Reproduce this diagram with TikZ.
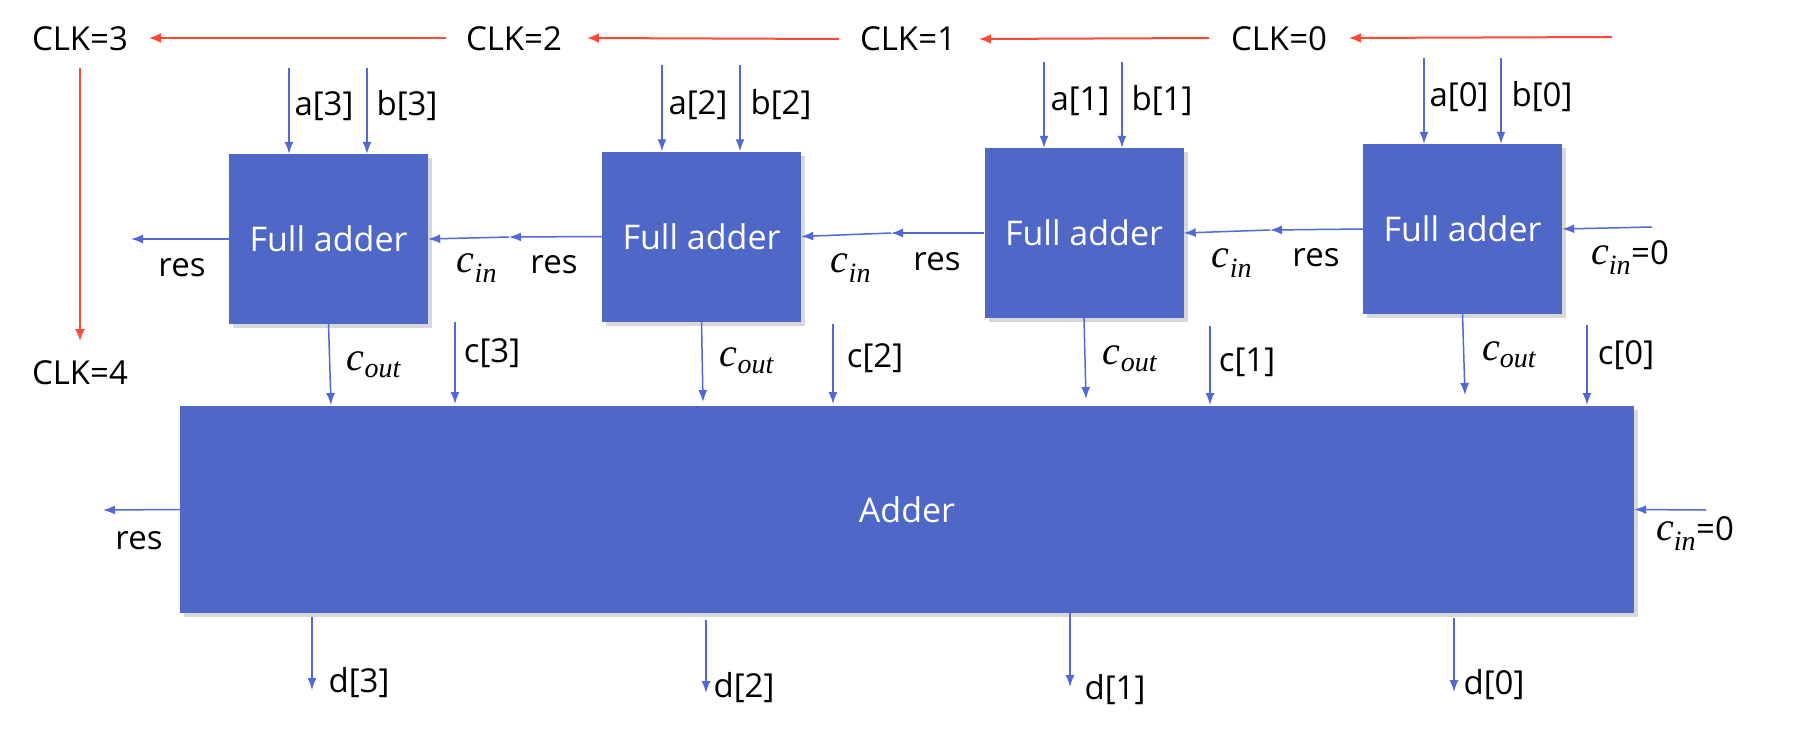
\documentclass[tikz,border=0pt]{standalone}
\usepackage{fontspec}
\setmainfont{Open Sans}
\newfontfamily\mserif{Liberation Serif}
\newcommand{\cvar}[1]{{\mserif\itshape c\textsubscript{#1}}}
\usetikzlibrary{arrows.meta,shadows}
\definecolor{fab}{RGB}{79,103,198}
\definecolor{arb}{RGB}{82,104,212}
\definecolor{clkr}{RGB}{255,72,56}
\tikzset{
  fabox/.style={fill=fab, draw=none, text=white, font=\fontsize{34}{40}\selectfont,
    minimum width=199pt, minimum height=170pt, inner sep=0pt,
    drop shadow={shadow xshift=4pt,shadow yshift=-4pt,opacity=0.3}},
  lbl/.style={font=\fontsize{33}{40}\selectfont, inner sep=0pt},
  mlbl/.style={font=\fontsize{40}{46}\selectfont, inner sep=0pt},
  barr/.style={draw=arb, line width=1.5pt, -{Latex[length=12pt,width=9pt]}},
  rarr/.style={draw=clkr, line width=2pt, -{Latex[length=12pt,width=10pt]}},
}
\newcommand{\eqz}{{\fontsize{33}{40}\selectfont =0}}
\begin{document}
\begin{tikzpicture}[x=1pt,y=-1pt]
\fill[white] (0,0) rectangle (1796,745);
\useasboundingbox (0,0) rectangle (1796,745);

% clock labels
\node[lbl] (clk3) at (80,39) {CLK=3};
\node[lbl] (clk2) at (514,39) {CLK=2};
\node[lbl] (clk1) at (908,39) {CLK=1};
\node[lbl] (clk0) at (1279,39) {CLK=0};
\node[lbl] (clk4) at (80,373) {CLK=4};

\coordinate (k0s) at (1612,37);  \coordinate (k0e) at (1349,38);
\coordinate (k1s) at (1209,38);  \coordinate (k1e) at (979,39);
\coordinate (k2s) at (839,39);   \coordinate (k2e) at (587,38);
\coordinate (k3s) at (446,38);   \coordinate (k3e) at (149,38);
\coordinate (k4s) at (80,68);    \coordinate (k4e) at (80,341);
\draw[rarr] (k0s) -- (k0e);
\draw[rarr] (k1s) -- (k1e);
\draw[rarr] (k2s) -- (k2e);
\draw[rarr] (k3s) -- (k3e);
\draw[rarr] (k4s) -- (k4e);

% full adders
\node[fabox] (fa3) at (328.5,239) {Full adder};
\node[fabox] (fa2) at (701.5,236.5) {Full adder};
\node[fabox] (fa1) at (1084,233) {Full adder};
\node[fabox] (fa0) at (1462.5,229) {Full adder};

% adder
\node[fabox, minimum width=1454pt, minimum height=207pt] (add) at (907,509.5) {Adder};

% a/b inputs
\coordinate (a3s) at (289,68);   \coordinate (b3s) at (367,68);
\coordinate (a2s) at (662,65);   \coordinate (b2s) at (740,65);
\coordinate (a1s) at (1044,62);  \coordinate (b1s) at (1122,62);
\coordinate (a0s) at (1424,58);  \coordinate (b0s) at (1501,58);
\draw[barr] (a3s) -- (a3s |- fa3.north);
\draw[barr] (b3s) -- (b3s |- fa3.north);
\draw[barr] (a2s) -- (a2s |- fa2.north);
\draw[barr] (b2s) -- (b2s |- fa2.north);
\draw[barr] (a1s) -- (a1s |- fa1.north);
\draw[barr] (b1s) -- (b1s |- fa1.north);
\draw[barr] (a0s) -- (a0s |- fa0.north);
\draw[barr] (b0s) -- (b0s |- fa0.north);
\node[lbl] (la3) at (324,106) {a[3]};
\node[lbl] (lb3) at (407,106) {b[3]};
\node[lbl] (la2) at (698,105) {a[2]};
\node[lbl] (lb2) at (781,105) {b[2]};
\node[lbl] (la1) at (1080,101) {a[1]};
\node[lbl] (lb1) at (1162,101) {b[1]};
\node[lbl] (la0) at (1459,97) {a[0]};
\node[lbl] (lb0) at (1542,97) {b[0]};

% chain links
\coordinate (r3) at (131,239);
\coordinate (m3) at (509,237);
\coordinate (m2) at (891,233);
\coordinate (m1) at (1270,230);
\coordinate (c0s) at (1652,227);
\draw[barr] (fa3.west) -- (r3);
\draw[barr] (fa2.west) -- (m3);
\draw[barr] (m3) -- (fa3.east);
\draw[barr] (fa1.west) -- (m2);
\draw[barr] (m2) -- (fa2.east);
\draw[barr] (fa0.west) -- (m1);
\draw[barr] (m1) -- (fa1.east);
\draw[barr] (c0s) -- (fa0.east);

\node[lbl] (lr3) at (182,268) {res};
\node[mlbl] (lci3) at (477,268) {\cvar{in}};
\node[lbl] (lr2) at (554,265) {res};
\node[mlbl] (lci2) at (851,268) {\cvar{in}};
\node[lbl] (lr1) at (937,262) {res};
\node[mlbl] (lci1) at (1232,263) {\cvar{in}};
\node[lbl] (lr0) at (1316,258) {res};
\node[mlbl] (lci0) at (1630,258) {\cvar{in}\eqz};

% carry outs and c inputs
\coordinate (co3) at (331,405);
\coordinate (co2) at (703,402);
\coordinate (co1) at (1086,399);
\coordinate (co0) at (1465,395);
\draw[barr] (fa3.south) -- (co3);
\draw[barr] (fa2.south) -- (co2);
\draw[barr] (fa1.south) -- (co1);
\draw[barr] (fa0.south) -- (co0);
\node[mlbl] (lco3) at (374,365) {\cvar{out}};
\node[mlbl] (lco2) at (747,361) {\cvar{out}};
\node[mlbl] (lco1) at (1130,359) {\cvar{out}};
\node[mlbl] (lco0) at (1509,355) {\cvar{out}};

\coordinate (c3s) at (455,322);  \coordinate (c3e) at (455,404);
\coordinate (c2s) at (833,324);  \coordinate (c2e) at (833,404);
\coordinate (c1s) at (1210,326); \coordinate (c1e) at (1210,405);
\coordinate (cc0s) at (1587,325); \coordinate (cc0e) at (1587,405);
\draw[barr] (c3s) -- (c3e);
\draw[barr] (c2s) -- (c2e);
\draw[barr] (c1s) -- (c1e);
\draw[barr] (cc0s) -- (cc0e);
\node[lbl] (lc3) at (492,353) {c[3]};
\node[lbl] (lc2) at (875,358) {c[2]};
\node[lbl] (lc1) at (1247,362) {c[1]};
\node[lbl] (lc0) at (1626,355) {c[0]};

% adder side ports
\coordinate (ar) at (103,510);
\coordinate (ain) at (1706,510);
\draw[barr] (add.west) -- (ar);
\draw[barr] (ain) -- (add.east);
\node[lbl] (lar) at (139,541) {res};
\node[mlbl] (lain) at (1695,534) {\cvar{in}\eqz};

% d outputs
\coordinate (d3s) at (312,617);  \coordinate (d3e) at (312,690);
\coordinate (d2s) at (706,620);  \coordinate (d2e) at (706,693);
\coordinate (d1s) at (1070,613); \coordinate (d1e) at (1070,687);
\coordinate (d0s) at (1454,618); \coordinate (d0e) at (1454,692);
\draw[barr] (d3s) -- (d3e);
\draw[barr] (d2s) -- (d2e);
\draw[barr] (d1s) -- (d1e);
\draw[barr] (d0s) -- (d0e);
\node[lbl] (ld3) at (359,683) {d[3]};
\node[lbl] (ld2) at (744,688) {d[2]};
\node[lbl] (ld1) at (1115,690) {d[1]};
\node[lbl] (ld0) at (1494,685) {d[0]};
\end{tikzpicture}
\end{document}
